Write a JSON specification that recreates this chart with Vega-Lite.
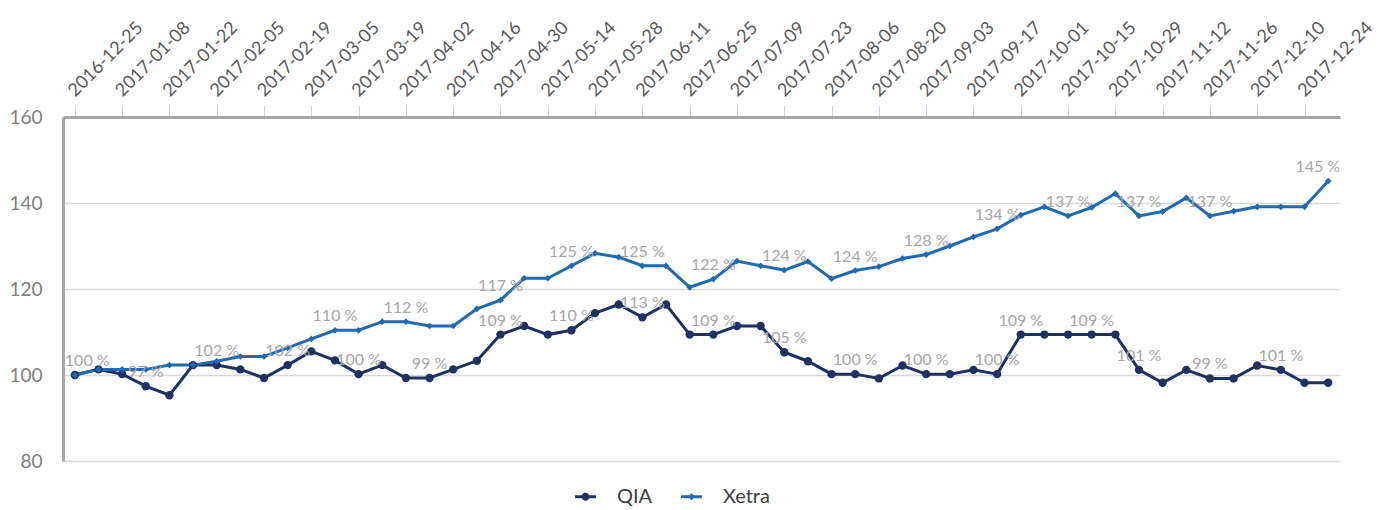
{
  "$schema": "https://vega.github.io/schema/vega-lite/v6.json",
  "width": 1277,
  "height": 344,
  "autosize": {"type": "none"},
  "padding": {"left": 63, "top": 117, "right": 45, "bottom": 49},
  "background": "white",
  "config": {
    "view": {"stroke": null},
    "font": "Lato",
    "axis": {"titleFontSize": 0}
  },
  "datasets": {
    "rows": [
      {"date": "2016-12-25", "QIA": 100.0, "Xetra": 100.0, "lq": "", "lx": "100 %"},
      {"date": "2017-01-01", "QIA": 101.3, "Xetra": 101.3, "lq": "", "lx": ""},
      {"date": "2017-01-08", "QIA": 100.2, "Xetra": 101.3, "lq": "", "lx": ""},
      {"date": "2017-01-15", "QIA": 97.4, "Xetra": 101.3, "lq": "97 %", "lx": ""},
      {"date": "2017-01-22", "QIA": 95.3, "Xetra": 102.3, "lq": "", "lx": ""},
      {"date": "2017-01-29", "QIA": 102.3, "Xetra": 102.3, "lq": "", "lx": ""},
      {"date": "2017-02-05", "QIA": 102.3, "Xetra": 103.2, "lq": "102 %", "lx": ""},
      {"date": "2017-02-12", "QIA": 101.3, "Xetra": 104.3, "lq": "", "lx": ""},
      {"date": "2017-02-19", "QIA": 99.3, "Xetra": 104.3, "lq": "", "lx": ""},
      {"date": "2017-02-26", "QIA": 102.3, "Xetra": 106.3, "lq": "102 %", "lx": ""},
      {"date": "2017-03-05", "QIA": 105.5, "Xetra": 108.4, "lq": "", "lx": ""},
      {"date": "2017-03-12", "QIA": 103.4, "Xetra": 110.4, "lq": "", "lx": "110 %"},
      {"date": "2017-03-19", "QIA": 100.2, "Xetra": 110.4, "lq": "100 %", "lx": ""},
      {"date": "2017-03-26", "QIA": 102.3, "Xetra": 112.4, "lq": "", "lx": ""},
      {"date": "2017-04-02", "QIA": 99.3, "Xetra": 112.4, "lq": "", "lx": "112 %"},
      {"date": "2017-04-09", "QIA": 99.3, "Xetra": 111.4, "lq": "99 %", "lx": ""},
      {"date": "2017-04-16", "QIA": 101.3, "Xetra": 111.4, "lq": "", "lx": ""},
      {"date": "2017-04-23", "QIA": 103.3, "Xetra": 115.4, "lq": "", "lx": ""},
      {"date": "2017-04-30", "QIA": 109.4, "Xetra": 117.4, "lq": "109 %", "lx": "117 %"},
      {"date": "2017-05-07", "QIA": 111.4, "Xetra": 122.5, "lq": "", "lx": ""},
      {"date": "2017-05-14", "QIA": 109.4, "Xetra": 122.5, "lq": "", "lx": ""},
      {"date": "2017-05-21", "QIA": 110.4, "Xetra": 125.4, "lq": "110 %", "lx": "125 %"},
      {"date": "2017-05-28", "QIA": 114.4, "Xetra": 128.3, "lq": "", "lx": ""},
      {"date": "2017-06-04", "QIA": 116.4, "Xetra": 127.4, "lq": "", "lx": ""},
      {"date": "2017-06-11", "QIA": 113.4, "Xetra": 125.4, "lq": "113 %", "lx": "125 %"},
      {"date": "2017-06-18", "QIA": 116.4, "Xetra": 125.4, "lq": "", "lx": ""},
      {"date": "2017-06-25", "QIA": 109.4, "Xetra": 120.4, "lq": "", "lx": ""},
      {"date": "2017-07-02", "QIA": 109.4, "Xetra": 122.3, "lq": "109 %", "lx": "122 %"},
      {"date": "2017-07-09", "QIA": 111.4, "Xetra": 126.5, "lq": "", "lx": ""},
      {"date": "2017-07-16", "QIA": 111.4, "Xetra": 125.4, "lq": "", "lx": ""},
      {"date": "2017-07-23", "QIA": 105.3, "Xetra": 124.4, "lq": "105 %", "lx": "124 %"},
      {"date": "2017-07-30", "QIA": 103.2, "Xetra": 126.4, "lq": "", "lx": ""},
      {"date": "2017-08-06", "QIA": 100.2, "Xetra": 122.4, "lq": "", "lx": ""},
      {"date": "2017-08-13", "QIA": 100.2, "Xetra": 124.3, "lq": "100 %", "lx": "124 %"},
      {"date": "2017-08-20", "QIA": 99.2, "Xetra": 125.2, "lq": "", "lx": ""},
      {"date": "2017-08-27", "QIA": 102.2, "Xetra": 127.1, "lq": "", "lx": ""},
      {"date": "2017-09-03", "QIA": 100.2, "Xetra": 128.0, "lq": "100 %", "lx": "128 %"},
      {"date": "2017-09-10", "QIA": 100.2, "Xetra": 130.0, "lq": "", "lx": ""},
      {"date": "2017-09-17", "QIA": 101.2, "Xetra": 132.1, "lq": "", "lx": ""},
      {"date": "2017-09-24", "QIA": 100.2, "Xetra": 134.0, "lq": "100 %", "lx": "134 %"},
      {"date": "2017-10-01", "QIA": 109.4, "Xetra": 137.2, "lq": "109 %", "lx": ""},
      {"date": "2017-10-08", "QIA": 109.4, "Xetra": 139.1, "lq": "", "lx": ""},
      {"date": "2017-10-15", "QIA": 109.4, "Xetra": 137.0, "lq": "", "lx": "137 %"},
      {"date": "2017-10-22", "QIA": 109.4, "Xetra": 139.0, "lq": "109 %", "lx": ""},
      {"date": "2017-10-29", "QIA": 109.4, "Xetra": 142.2, "lq": "", "lx": ""},
      {"date": "2017-11-05", "QIA": 101.2, "Xetra": 137.0, "lq": "101 %", "lx": "137 %"},
      {"date": "2017-11-12", "QIA": 98.2, "Xetra": 138.0, "lq": "", "lx": ""},
      {"date": "2017-11-19", "QIA": 101.2, "Xetra": 141.2, "lq": "", "lx": ""},
      {"date": "2017-11-26", "QIA": 99.2, "Xetra": 137.0, "lq": "99 %", "lx": "137 %"},
      {"date": "2017-12-03", "QIA": 99.2, "Xetra": 138.1, "lq": "", "lx": ""},
      {"date": "2017-12-10", "QIA": 102.2, "Xetra": 139.1, "lq": "", "lx": ""},
      {"date": "2017-12-17", "QIA": 101.2, "Xetra": 139.1, "lq": "101 %", "lx": ""},
      {"date": "2017-12-24", "QIA": 98.2, "Xetra": 139.1, "lq": "", "lx": ""},
      {"date": "2017-12-31", "QIA": 98.2, "Xetra": 145.1, "lq": "", "lx": "145 %"}
    ]
  },
  "data": {"name": "rows"},
  "transform": [
    {"fold": ["QIA", "Xetra"], "as": ["series", "value"]},
    {"calculate": "datum.series === 'QIA' ? datum.lq : datum.lx", "as": "lbl"}
  ],
  "encoding": {
    "x": {
      "field": "date",
      "type": "ordinal",
      "scale": {"type": "point", "padding": 0.5},
      "axis": {
        "orient": "top",
        "title": null,
        "values": ["2016-12-25","2017-01-08","2017-01-22","2017-02-05","2017-02-19","2017-03-05","2017-03-19","2017-04-02","2017-04-16","2017-04-30","2017-05-14","2017-05-28","2017-06-11","2017-06-25","2017-07-09","2017-07-23","2017-08-06","2017-08-20","2017-09-03","2017-09-17","2017-10-01","2017-10-15","2017-10-29","2017-11-12","2017-11-26","2017-12-10","2017-12-24"],
        "labelAngle": -45,
        "labelAlign": "left",
        "labelBaseline": "alphabetic",
        "labelPadding": 8,
        "labelFontSize": 18,
        "labelColor": "#595959",
        "labelOverlap": false,
        "labelBound": false,
        "tickColor": "#c3d3e8",
        "tickSize": 12,
        "tickWidth": 1,
        "domainColor": "#a6a6a6",
        "domainWidth": 3,
        "grid": false
      }
    },
    "y": {
      "field": "value",
      "type": "quantitative",
      "scale": {"domain": [80, 160], "nice": false, "zero": false},
      "axis": {
        "title": null,
        "values": [80, 100, 120, 140, 160],
        "ticks": false,
        "labelPadding": 21,
        "labelFontSize": 19,
        "labelColor": "#7f7f7f",
        "domainColor": "#a6a6a6",
        "domainWidth": 3,
        "grid": true,
        "gridColor": "#d9d9d9",
        "gridWidth": 1.3
      }
    },
    "color": {
      "field": "series",
      "type": "nominal",
      "scale": {"domain": ["QIA", "Xetra"], "range": ["#1f3163", "#1f6ab0"]},
      "legend": {
        "orient": "none",
        "legendX": 512,
        "legendY": 369,
        "direction": "horizontal",
        "title": null,
        "symbolSize": 441,
        "symbolStrokeWidth": 0,
        "labelFontSize": 20,
        "labelColor": "#404040",
        "labelOffset": 21,
        "columnPadding": 28,
        "encode": {
          "symbols": {
            "update": {
              "shape": {"signal": "datum.value === 'QIA' ? 'M-1,-0.14L1,-0.14L1,0.14L-1,0.14Z M-0.38,0A0.38,0.38,0,1,1,0.38,0A0.38,0.38,0,1,1,-0.38,0Z' : 'M-1,-0.14L1,-0.14L1,0.14L-1,0.14Z M0,-0.34L0.34,0L0,0.34L-0.34,0Z'"},
              "fill": {"scale": "color", "field": "value"},
              "fillOpacity": {"value": 1},
              "stroke": {"value": "transparent"}
            }
          }
        }
      }
    }
  },
  "layer": [
    {"mark": {"type": "line", "strokeWidth": 3}},
    {
      "transform": [{"filter": "datum.series === 'QIA'"}],
      "mark": {"type": "point", "filled": true, "opacity": 1, "shape": "circle", "size": 70}
    },
    {
      "transform": [{"filter": "datum.series === 'Xetra'"}],
      "mark": {"type": "point", "filled": true, "opacity": 1, "shape": "diamond", "size": 45}
    },
    {
      "transform": [{"filter": "datum.lbl !== '' && datum.date !== '2016-12-25' && datum.date !== '2017-12-31'"}],
      "mark": {"type": "text", "dy": -14, "fontSize": 16, "baseline": "middle", "align": "center"},
      "encoding": {"text": {"field": "lbl"}, "color": {"value": "#a6a6a6"}}
    },
    {
      "transform": [{"filter": "datum.lbl !== '' && datum.date === '2016-12-25'"}],
      "mark": {"type": "text", "dy": -14, "dx": -10, "fontSize": 16, "baseline": "middle", "align": "left"},
      "encoding": {"text": {"field": "lbl"}, "color": {"value": "#a6a6a6"}}
    },
    {
      "transform": [{"filter": "datum.lbl !== '' && datum.date === '2017-12-31'"}],
      "mark": {"type": "text", "dy": -14, "dx": 12, "fontSize": 16, "baseline": "middle", "align": "right"},
      "encoding": {"text": {"field": "lbl"}, "color": {"value": "#a6a6a6"}}
    }
  ]
}
